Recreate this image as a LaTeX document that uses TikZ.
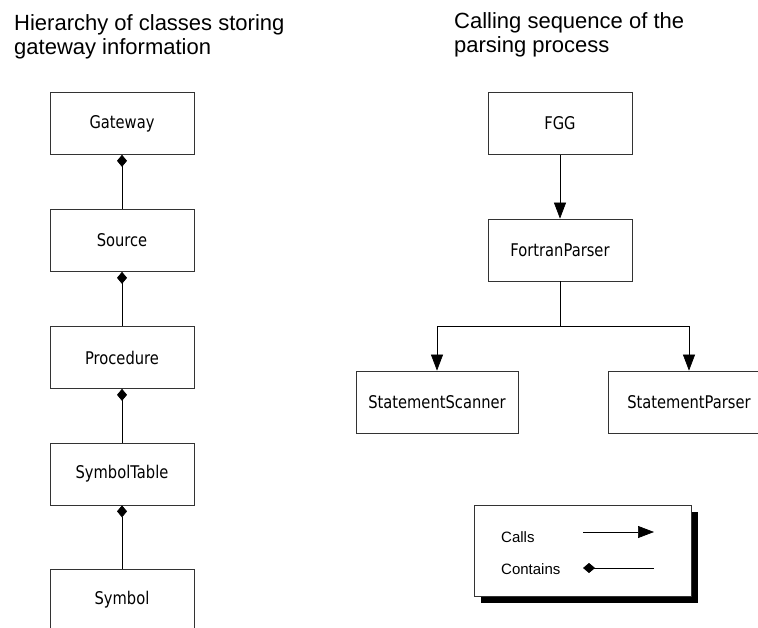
\documentclass[tikz,border=0pt]{standalone}
\usepackage{fontspec}
\setmainfont{Liberation Sans}
\newfontfamily\boxfont[FakeStretch=0.84]{DejaVu Sans}
\usetikzlibrary{arrows.meta,shadows}

\begin{document}
\begin{tikzpicture}[x=1pt,y=-1pt,
	classbox/.style={draw=black!80, line width=0.7pt, minimum width=144pt, minimum height=62pt, inner sep=0pt, font=\boxfont\fontsize{17.5}{20}\selectfont},
	callsto/.style={line width=0.7pt, -{Triangle[length=16pt,width=12pt]}},
	contains/.style={line width=0.7pt, {Diamond[length=12pt,width=10pt]}-},
	heading/.style={anchor=north west, inner sep=0pt, align=left, font=\fontsize{22}{24}\selectfont},
	legendtext/.style={anchor=west, inner sep=0pt, font=\fontsize{15}{18}\selectfont}]

	\useasboundingbox (0,0) rectangle (758,628);

	%headings
	\node[heading] (lefthead) at (14,14) {Hierarchy of classes storing\\gateway information};
	\node[heading] (righthead) at (454,12) {Calling sequence of the\\parsing process};

	%draw the class hierarchy
	\node[classbox] (gateway) at (122,123.5) {Gateway};
	\node[classbox] (source) at (122,240.5) {Source};
	\node[classbox] (procedure) at (122,357.5) {Procedure};
	\node[classbox] (symtable) at (122,474) {SymbolTable};
	\node[classbox] (symbol) at (122,600) {Symbol};
	\draw[contains] (gateway) -- (source);
	\draw[contains] (source) -- (procedure);
	\draw[contains] (procedure) -- (symtable);
	\draw[contains] (symtable) -- (symbol);

	%draw the calling sequence
	\node[classbox] (fgg) at (560,123.5) {FGG};
	\node[classbox] (fortran) at (560,250) {FortranParser};
	\node[classbox, minimum width=162pt] (scanner) at (437,402) {StatementScanner};
	\node[classbox, minimum width=162pt] (parser) at (689,402) {StatementParser};
	\coordinate (fork) at (560,326);
	\draw[callsto] (fgg) -- (fortran);
	\draw[line width=0.7pt] (fortran) -- (fork);
	\draw[callsto] (fork) -| (scanner);
	\draw[callsto] (fork) -| (parser);

	%legend with its shadow
	\node[draw=black!80, line width=0.7pt, fill=white, minimum width=217pt, minimum height=91pt,
		drop shadow={shadow xshift=7pt, shadow yshift=-7pt, opacity=1, fill=black}] (legend) at (582.5,550.5) {};
	\node[legendtext] (callstext) at (501,537) {Calls};
	\node[legendtext] (containstext) at (501,569) {Contains};
	\coordinate (callsa) at (583,532);
	\coordinate (callsb) at (654,532);
	\coordinate (containsa) at (583,568);
	\coordinate (containsb) at (654,568);
	\draw[callsto] (callsa) -- (callsb);
	\draw[contains] (containsa) -- (containsb);

\end{tikzpicture}
\end{document}
